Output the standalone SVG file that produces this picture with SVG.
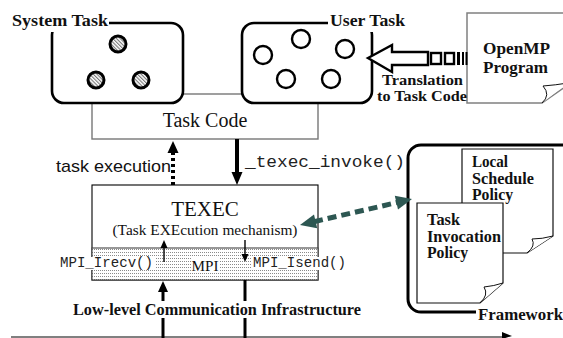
<svg xmlns="http://www.w3.org/2000/svg" width="563" height="338" viewBox="0 0 563 338">
  <style>
    .bold { font-family: "Liberation Serif", "Times New Roman", serif; font-weight: bold; fill: #111; }
    .serif { font-family: "Liberation Serif", "Times New Roman", serif; fill: #111; }
    .mono { font-family: "Liberation Mono", "Courier New", monospace; fill: #222; }
    .sans { font-family: "Liberation Sans", Arial, sans-serif; fill: #111; }
    .taskbox { fill: #fff; stroke: #000; stroke-width: 2.6; }
    .doc { fill: #fff; stroke: #111; stroke-width: 1.2; }
    .flap { fill: #fff; stroke: #111; stroke-width: 1; }
    .bg { fill: #fff; }
  </style>
  <defs>
    <pattern id="hatch" patternUnits="userSpaceOnUse" width="2.6" height="2.6" patternTransform="rotate(-45)">
      <rect width="2.6" height="2.6" fill="#fff"/>
      <rect width="1.1" height="2.6" fill="#777"/>
    </pattern>
    <pattern id="stipple" patternUnits="userSpaceOnUse" width="2" height="3">
      <rect width="2" height="3" fill="#fff"/>
      <rect width="1" height="1" fill="#8a8a8a"/>
    </pattern>
  </defs>

  <!-- Task Code layer behind the task groups -->
  <g id="task-code">
    <rect x="92" y="94" width="226" height="45" fill="#fff" stroke="#777" stroke-width="1.4"/>
    <text class="serif" x="205" y="127" font-size="20" text-anchor="middle">Task Code</text>
  </g>

  <g id="system-task">
    <rect class="taskbox" x="52" y="23" width="131" height="80" rx="12"/>
    <rect class="bg" x="9" y="10" width="100" height="22"/>
    <text class="bold" x="12" y="26" font-size="17" textLength="96" lengthAdjust="spacingAndGlyphs">System Task</text>
    <g fill="url(#hatch)" stroke="#000" stroke-width="3">
      <circle cx="118" cy="44" r="8"/>
      <circle cx="96" cy="80" r="8"/>
      <circle cx="141" cy="80" r="8"/>
    </g>
  </g>

  <g id="user-task">
    <rect class="taskbox" x="242" y="23" width="130" height="80" rx="12"/>
    <rect class="bg" x="328" y="10" width="80" height="22"/>
    <text class="bold" x="330" y="26" font-size="17" textLength="75" lengthAdjust="spacingAndGlyphs">User Task</text>
    <g fill="#fff" stroke="#000" stroke-width="2.4">
      <circle cx="263" cy="55" r="9"/>
      <circle cx="301" cy="39" r="9"/>
      <circle cx="345" cy="49" r="9"/>
      <circle cx="286" cy="79" r="9"/>
      <circle cx="331" cy="79" r="9"/>
    </g>
  </g>

  <g id="openmp-program">
    <path d="M467,13 H575 V80 L542,103 H467 Z" fill="#fff" stroke="#808080" stroke-width="1.5"/>
    <path class="flap" d="M542,103 Q551,95 543,86 Q556,85 568,83"/>
    <text class="bold" x="483" y="54" font-size="17" textLength="67" lengthAdjust="spacingAndGlyphs">OpenMP</text>
    <text class="bold" x="483" y="73" font-size="17" textLength="65" lengthAdjust="spacingAndGlyphs">Program</text>
  </g>

  <g id="texec">
    <rect x="92" y="185" width="226" height="95" fill="#fff" stroke="#000" stroke-width="1.1"/>
    <rect x="92" y="248" width="226" height="32" fill="url(#stipple)" stroke="#444" stroke-width="1.1"/>
    <text class="serif" x="205" y="216" font-size="21" text-anchor="middle">TEXEC</text>
    <text class="serif" x="205" y="235" font-size="15" text-anchor="middle" textLength="185" lengthAdjust="spacingAndGlyphs">(Task EXEcution mechanism)</text>
    <rect class="bg" x="58" y="257" width="97" height="13"/>
    <rect class="bg" x="191" y="258" width="28" height="15"/>
    <rect class="bg" x="252" y="257" width="96" height="13"/>
    <text class="mono" x="60" y="267" font-size="14" textLength="93" lengthAdjust="spacingAndGlyphs">MPI_Irecv()</text>
    <text class="serif" x="205" y="271" font-size="15" text-anchor="middle" textLength="27" lengthAdjust="spacingAndGlyphs">MPI</text>
    <text class="mono" x="253" y="267" font-size="14" textLength="93" lengthAdjust="spacingAndGlyphs">MPI_Isend()</text>
    <!-- calls between TEXEC and MPI -->
    <line x1="164" y1="262" x2="164" y2="246" stroke="#000" stroke-width="1.4"/>
    <polygon points="164,240 160.5,248 167.5,248" fill="#000"/>
    <line x1="245" y1="240" x2="245" y2="256" stroke="#000" stroke-width="1.4"/>
    <polygon points="245,262 241.5,254 248.5,254" fill="#000"/>
  </g>

  <g id="framework">
    <rect x="408" y="145" width="200" height="167" rx="13" fill="#fff" stroke="#000" stroke-width="3"/>
    <g id="local-schedule-policy">
      <path class="doc" d="M462,149 H553 V236 L527,253 H462 Z"/>
      <path class="flap" d="M527,253 Q536,246 532,239 Q542,239 553,236"/>
      <text class="bold" x="472" y="167" font-size="16" textLength="36" lengthAdjust="spacingAndGlyphs">Local</text>
      <text class="bold" x="472" y="184" font-size="16" textLength="62" lengthAdjust="spacingAndGlyphs">Schedule</text>
      <text class="bold" x="472" y="200" font-size="16" textLength="41" lengthAdjust="spacingAndGlyphs">Policy</text>
    </g>
    <g id="task-invocation-policy">
      <path class="doc" d="M417,203 H503 V283 L480,303 H417 Z"/>
      <path class="flap" d="M480,303 Q489,295 484,287 Q494,286 503,283"/>
      <text class="bold" x="427" y="225" font-size="16" textLength="33" lengthAdjust="spacingAndGlyphs">Task</text>
      <text class="bold" x="427" y="242" font-size="16" textLength="74" lengthAdjust="spacingAndGlyphs">Invocation</text>
      <text class="bold" x="427" y="258" font-size="16" textLength="41" lengthAdjust="spacingAndGlyphs">Policy</text>
    </g>
    <rect class="bg" x="476" y="306" width="90" height="20"/>
    <text class="bold" x="478" y="320" font-size="17" textLength="85" lengthAdjust="spacingAndGlyphs">Framework</text>
  </g>

  <g id="connectors">
    <!-- translation arrow: OpenMP program to user task -->
    <path d="M368,58 L392,45 V52 H428 V65 H392 V72 Z" fill="#fff" stroke="#000" stroke-width="2.4" stroke-linejoin="miter"/>
    <rect x="431" y="53" width="10" height="11" fill="#fff" stroke="#000" stroke-width="2.4"/>
    <rect x="445" y="53" width="9" height="11" fill="#fff" stroke="#000" stroke-width="2.4"/>
    <rect x="457" y="52" width="3" height="13" fill="#000"/>
    <rect x="462" y="52" width="2" height="13" fill="#000"/>
    <rect x="465.5" y="52" width="2" height="13" fill="#000"/>
    <text class="bold" x="382" y="85" font-size="15" textLength="81" lengthAdjust="spacingAndGlyphs">Translation</text>
    <text class="bold" x="377" y="101" font-size="15" textLength="90" lengthAdjust="spacingAndGlyphs">to Task Code</text>

    <!-- task execution: TEXEC to Task Code -->
    <line x1="173" y1="185" x2="173" y2="152" stroke="#000" stroke-width="4" stroke-dasharray="3,3"/>
    <polygon points="173,141 167.5,153 178.5,153" fill="#000"/>
    <text class="sans" x="56" y="172" font-size="17" textLength="115" lengthAdjust="spacingAndGlyphs">task execution</text>

    <!-- _texec_invoke(): Task Code to TEXEC -->
    <line x1="237" y1="139" x2="237" y2="174" stroke="#000" stroke-width="4"/>
    <polygon points="237,185 231.5,172 242.5,172" fill="#000"/>
    <text class="mono" x="245" y="167" font-size="17" textLength="160" lengthAdjust="spacingAndGlyphs">_texec_invoke()</text>

    <!-- TEXEC to framework policies -->
    <line x1="314" y1="221.7" x2="398" y2="202.3" stroke="#2d5752" stroke-width="5" stroke-dasharray="9,5"/>
    <polygon points="300,225 317.2,228.2 314,214.6" fill="#2d5752"/>
    <polygon points="412,199 398,209.4 394.8,195.8" fill="#2d5752"/>

    <!-- low-level communication -->
    <line x1="11" y1="337" x2="505" y2="337" stroke="#808080" stroke-width="2"/>
    <polygon points="512,336 502,332 502,339" fill="#000"/>
    <line x1="163" y1="338" x2="163" y2="290" stroke="#000" stroke-width="3"/>
    <polygon points="163,281 158,292 168,292" fill="#000"/>
    <line x1="245" y1="280" x2="245" y2="338" stroke="#000" stroke-width="3"/>
    <rect class="bg" x="71" y="301" width="293" height="17"/>
    <text class="bold" x="73" y="315" font-size="16" textLength="288" lengthAdjust="spacingAndGlyphs">Low-level Communication Infrastructure</text>
  </g>
</svg>
